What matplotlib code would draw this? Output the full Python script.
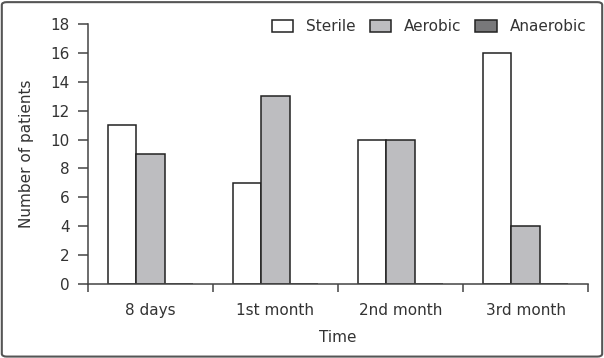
import matplotlib
matplotlib.use("Agg")
import matplotlib.pyplot as plt
from matplotlib.patches import FancyBboxPatch
import numpy as np

categories = ["8 days", "1st month", "2nd month", "3rd month"]
sterile = [11, 7, 10, 16]
aerobic = [9, 13, 10, 4]
anaerobic = [0, 0, 0, 0]
series_names = ["Sterile", "Aerobic", "Anaerobic"]
colors = ["#ffffff", "#bdbdc0", "#78787a"]
yticks = [0, 2, 4, 6, 8, 10, 12, 14, 16, 18]

plt.rcParams['font.family'] = ['DejaVu Sans']
fig = plt.figure(figsize=(6.04, 3.58), dpi=100)
ax = fig.add_axes([88/604, 1-284/358, 500/604, 260/358])

x = np.arange(len(categories))
w = 0.225
for k, (vals, name, c) in enumerate(zip([sterile, aerobic, anaerobic], series_names, colors)):
    ax.bar(x + (k-1)*w, vals, width=w, color=c, edgecolor="#222222", linewidth=1.1, label=name)

ax.set_xlim(-0.5, 3.5)
ax.set_ylim(0, 18)
ax.set_yticks(yticks)
ax.set_xticks(x)
ax.set_xticklabels(categories)
ax.set_xticks(np.arange(-0.5, 4.0, 1.0), minor=True)
ax.tick_params(axis='x', which='major', length=0, pad=14, labelsize=11, colors="#333333")
ax.tick_params(axis='x', which='minor', length=6, width=1.1, color="#444444", direction='out')
ax.tick_params(axis='y', length=7, width=1.1, color="#444444", labelsize=11, labelcolor="#333333", pad=6)
for s in ['top', 'right']:
    ax.spines[s].set_visible(False)
for s in ['left', 'bottom']:
    ax.spines[s].set_color("#444444")
    ax.spines[s].set_linewidth(1.1)
ax.spines['bottom'].set_zorder(5)

ax.set_ylabel("Number of patients", fontsize=11, color="#333333", labelpad=12)
ax.set_xlabel("Time", fontsize=11, color="#333333", labelpad=8)

leg = ax.legend(ncol=3, frameon=False, loc='upper right', bbox_to_anchor=(1.024, 1.072),
                fontsize=11, handlelength=1.4, handleheight=0.85, columnspacing=0.9,
                handletextpad=0.85, labelcolor="#333333")

border = FancyBboxPatch((0.003, 0.004), 0.994, 0.99, boxstyle="round,pad=0,rounding_size=0.008",
                        transform=fig.transFigure, fill=False, edgecolor="#555555", linewidth=1.5)
fig.patches.append(border)

fig.savefig("out.png", dpi=100)
